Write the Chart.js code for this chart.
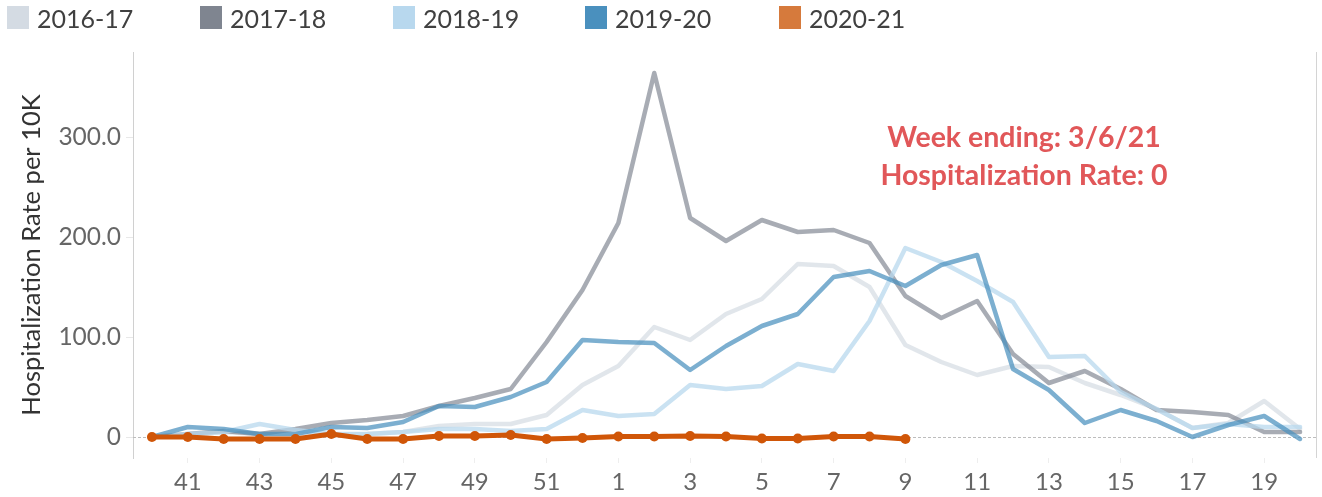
<!DOCTYPE html>
<html>
<head>
<meta charset="utf-8">
<script src="https://cdn.jsdelivr.net/npm/chart.js@4.4.1/dist/chart.umd.min.js"></script>
<style>
  html, body { margin: 0; padding: 0; background: #fff; }
  #wrap { position: relative; width: 1322px; height: 497px; }
  #legend { position: absolute; left: 0; top: 0; height: 36px; width: 1322px; font-family: Lato, "Open Sans", sans-serif; }
  .li { position: absolute; top: 0; height: 36px; }
  .sw { position: absolute; left: 0; top: 6px; width: 22px; height: 23px; }
  .lt { position: absolute; left: 30px; top: 3px; font-size: 25px; line-height: 30px; color: #404040; white-space: nowrap; }
  canvas { position: absolute; left: 0; top: 0; }
</style>
</head>
<body>
<div id="wrap">
  <canvas id="c" width="1322" height="497"></canvas>
  <div id="legend"></div>
</div>
<script>
// ---- data ----
const weeks = [40,41,42,43,44,45,46,47,48,49,50,51,52,1,2,3,4,5,6,7,8,9,10,11,12,13,14,15,16,17,18,19,20];
const seasons = ["2016-17","2017-18","2018-19","2019-20","2020-21"];
const legendColors = ["#d4dbe3","#7f8590","#b8d8ee","#4a90be","#d67a3c"];
const lineColors = ["rgba(212,219,227,0.7)","rgba(127,133,144,0.68)","rgba(184,216,238,0.75)","rgba(74,144,190,0.72)","rgb(208,86,8)"];

const s2016 = [0,2,5,3,3,2,3,5,11,13,13,22,52,71,110,97,123,138,173,171,150,92,75,62,71,70,54,42,28,9,14,36,8];
const s2017 = [0,3,6,3,8,14,17,21,31,39,48,95,147,214,364,219,196,217,205,207,194,141,119,136,83,54,66,48,27,25,22,5,5];
const s2018 = [0,3,5,13,7,3,3,5,8,8,6,8,27,21,23,52,48,51,73,66,116,189,175,156,135,80,81,45,28,9,13,10,10];
const s2019 = [0,10,8,3,3,10,9,15,31,30,40,55,97,95,94,67,91,111,123,160,166,151,172,182,68,47,14,27,16,0,12,21,-2];
const s2020 = [0,0,-2,-2,-2,3,-2,-2,1,1,2,-2,-1,0.5,0.5,1,0.5,-1.5,-1.5,0.5,0.5,-2];

const yTickValues = [0,100,200,300];
const xTickIndices = [1,3,5,7,9,11,13,15,17,19,21,23,25,27,29,31];
const annotationLines = ["Week ending: 3/6/21","Hospitalization Rate: 0"];

// ---- legend (HTML) ----
const legendLeft = [7, 200, 393, 585, 779];
const lg = document.getElementById('legend');
seasons.forEach((s, i) => {
  const d = document.createElement('div');
  d.className = 'li';
  d.style.left = legendLeft[i] + 'px';
  d.innerHTML = '<div class="sw" style="background:' + legendColors[i] + '"></div><div class="lt">' + s + '</div>';
  lg.appendChild(d);
});

const toXY = arr => arr.map((v, i) => ({x: i, y: v}));
const allSeries = [s2016, s2017, s2018, s2019, s2020];
const orders = [4, 3, 2, 1, 0];

const datasets = allSeries.map((arr, i) => ({
  label: seasons[i],
  data: toXY(arr),
  borderColor: lineColors[i],
  backgroundColor: lineColors[i],
  borderWidth: i === 4 ? 5 : 4.5,
  pointRadius: i === 4 ? 5 : 0,
  pointHoverRadius: i === 4 ? 5 : 0,
  pointBorderWidth: 0,
  tension: 0,
  borderJoinStyle: 'round',
  borderCapStyle: 'round',
  order: orders[i],
  fill: false
}));

const extras = {
  id: 'extras',
  beforeDatasetsDraw(chart) {
    const {ctx, chartArea, scales} = chart;
    const y0 = scales.y.getPixelForValue(0);
    ctx.save();
    ctx.strokeStyle = '#bdbdbd';
    ctx.lineWidth = 1;
    ctx.setLineDash([3, 2]);
    ctx.beginPath();
    ctx.moveTo(chartArea.left, y0 + 0.5);
    ctx.lineTo(chartArea.right, y0 + 0.5);
    ctx.stroke();
    ctx.setLineDash([]);
    ctx.strokeStyle = '#d4d4d4';
    ctx.beginPath();
    ctx.moveTo(chartArea.right - 0.5, chartArea.top);
    ctx.lineTo(chartArea.right - 0.5, chartArea.bottom);
    ctx.stroke();
    ctx.restore();
  },
  afterDatasetsDraw(chart) {
    const {ctx, chartArea} = chart;
    ctx.save();
    ctx.fillStyle = '#e15759';
    ctx.font = 'bold 28.5px Lato, "Open Sans", sans-serif';
    ctx.textAlign = 'center';
    ctx.textBaseline = 'middle';
    const cx = chartArea.left + 891;
    ctx.fillText(annotationLines[0], cx, chartArea.top + 86);
    ctx.fillText(annotationLines[1], cx, chartArea.top + 124);
    ctx.restore();
  }
};

new Chart(document.getElementById('c'), {
  type: 'line',
  data: { datasets },
  options: {
    responsive: false,
    animation: false,
    layout: { padding: { top: 52, right: 1, left: 0, bottom: 0 } },
    plugins: { legend: { display: false }, tooltip: { enabled: false } },
    scales: {
      x: {
        type: 'linear',
        min: -0.528,
        max: 32.472,
        afterBuildTicks(scale) { scale.ticks = xTickIndices.map(v => ({value: v})); },
        afterFit(scale) { scale.height = 39; },
        ticks: {
          autoSkip: false,
          maxRotation: 0,
          padding: 5,
          color: '#666666',
          font: { family: 'Lato, "Open Sans", sans-serif', size: 24 },
          callback: v => weeks[v]
        },
        grid: { drawOnChartArea: false, drawTicks: true, tickLength: 5, color: '#eeeeee' },
        border: { display: false }
      },
      y: {
        type: 'linear',
        min: -21,
        max: 385,
        afterBuildTicks(scale) { scale.ticks = yTickValues.map(v => ({value: v})); },
        afterFit(scale) { scale.width = 133; },
        ticks: {
          padding: 5,
          color: '#666666',
          font: { family: 'Lato, "Open Sans", sans-serif', size: 24.5 },
          callback: v => v === 0 ? '0' : v.toFixed(1)
        },
        grid: { drawOnChartArea: false, drawTicks: true, tickLength: 7, color: '#e8e8e8' },
        border: { display: true, color: '#d0d0d0', width: 1 },
        title: {
          display: true,
          text: 'Hospitalization Rate per 10K',
          color: '#333333',
          font: { family: 'Lato, "Open Sans", sans-serif', size: 25.5 },
          padding: { top: 16, bottom: 0 }
        }
      }
    }
  },
  plugins: [extras]
});
</script>
</body>
</html>
